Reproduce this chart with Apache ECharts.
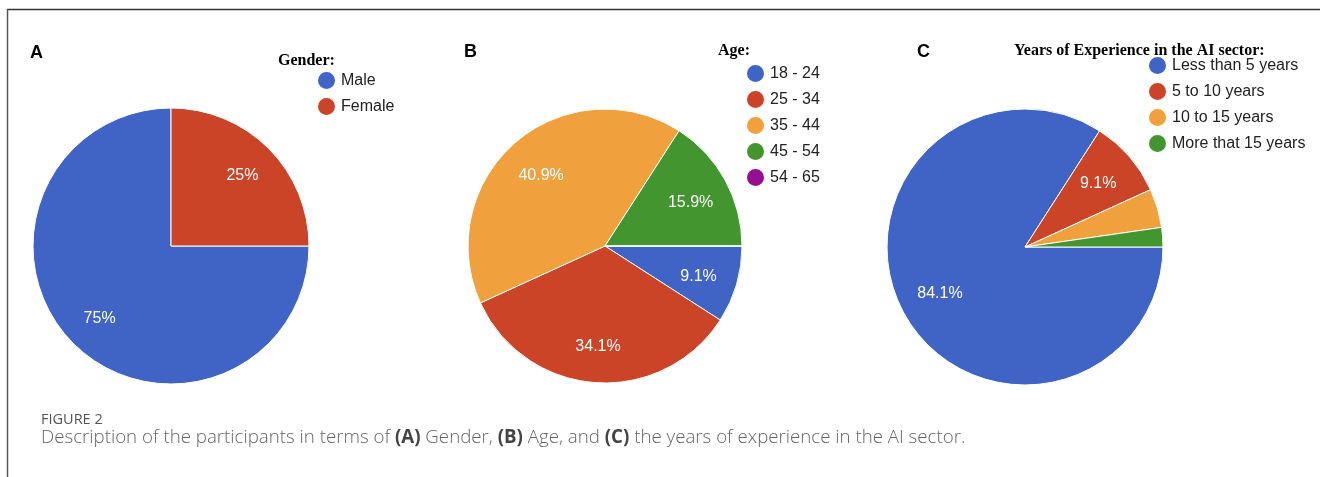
<!DOCTYPE html>
<html>
<head>
<meta charset="utf-8">
<script src="https://cdn.jsdelivr.net/npm/echarts@6/dist/echarts.min.js"></script>
<style>
  html, body { margin: 0; padding: 0; background: #fff; }
  #chart { width: 1320px; height: 477px; }
</style>
</head>
<body>
<div id="chart"></div>
<script>
// 44 participants
var genderNames = ['Male', 'Female'];
var genderCounts = [33, 11];
var ageNames = ['18 - 24', '25 - 34', '35 - 44', '45 - 54', '54 - 65'];
var ageCounts = [4, 15, 18, 7, 0];
var expNames = ['Less than 5 years', '5 to 10 years', '10 to 15 years', 'More that 15 years'];
var expCounts = [37, 4, 2, 1];

var palette = ['#3f64c6', '#cc4428', '#f0a03c', '#43962f', '#931093'];

function toData(names, values) {
  return names.map(function (n, i) {
    return { name: n, value: values[i] };
  });
}

// main pie, no labels
function pieMain(names, values, cx, cy, r) {
  return {
    type: 'pie',
    center: [cx, cy],
    radius: [0, r],
    startAngle: 0,
    clockwise: true,
    silent: true,
    itemStyle: {
      borderColor: '#fff',
      borderWidth: 1,
      color: function (p) { return palette[p.dataIndex]; }
    },
    label: { show: false },
    labelLine: { show: false },
    data: toData(names, values)
  };
}

// transparent ring, only to put the percent labels further out
function pieLabels(names, values, cx, cy, r, inner) {
  return {
    type: 'pie',
    center: [cx, cy],
    radius: [r * inner, r],
    startAngle: 0,
    clockwise: true,
    silent: true,
    percentPrecision: 1,
    itemStyle: { color: 'rgba(0,0,0,0)', borderWidth: 0 },
    label: {
      show: true,
      position: 'inside',
      color: '#fff',
      fontSize: 16,
      fontFamily: 'Liberation Sans, Arial',
      formatter: function (p) {
        return p.percent >= 5 ? p.percent + '%' : '';
      }
    },
    labelLine: { show: false },
    data: toData(names, values)
  };
}

function legendAt(names, left, top) {
  return {
    orient: 'vertical',
    left: left,
    top: top,
    padding: 0,
    itemGap: 5,
    itemWidth: 19,
    itemHeight: 19,
    icon: 'circle',
    selectedMode: false,
    data: names,
    textStyle: { fontSize: 16, color: '#222', fontFamily: 'Liberation Sans, Arial' }
  };
}

function txt(s, x, y, font, fill) {
  return {
    type: 'text',
    silent: true,
    style: { text: s, x: x, y: y, font: font, fill: fill || '#000', verticalAlign: 'middle' }
  };
}

var chart = echarts.init(document.getElementById('chart'), null, { renderer: 'canvas' });

var option = {
  backgroundColor: '#fff',
  animation: false,
  legend: [
    legendAt(genderNames, 316, 70),
    legendAt(ageNames, 745, 63),
    legendAt(expNames, 1147, 55)
  ],
  graphic: [
    { type: 'line', silent: true, shape: { x1: 7, y1: 9.5, x2: 1320, y2: 9.5 }, style: { stroke: '#333', lineWidth: 1.5 } },
    { type: 'line', silent: true, shape: { x1: 7.5, y1: 9, x2: 7.5, y2: 477 }, style: { stroke: '#555', lineWidth: 1.5 } },
    txt('A', 30, 53, 'bold 18px Liberation Sans, Arial'),
    txt('B', 464, 52, 'bold 18px Liberation Sans, Arial'),
    txt('C', 917, 52, 'bold 18px Liberation Sans, Arial'),
    txt('Gender:', 278, 61, 'bold 16px Liberation Serif, Times New Roman'),
    txt('Age:', 718, 51, 'bold 16px Liberation Serif, Times New Roman'),
    txt('Years of Experience in the AI sector:', 1014, 51, 'bold 16px Liberation Serif, Times New Roman'),
    txt('FIGURE 2', 41, 420, '500 14.5px Open Sans', '#555'),
    {
      type: 'text',
      silent: true,
      style: {
        x: 41,
        y: 438,
        verticalAlign: 'middle',
        text: 'Description of the participants in terms of {b|(A)} Gender, {b|(B)} Age, and {b|(C)} the years of experience in the AI sector.',
        font: '300 18.7px Open Sans',
        fill: '#666',
        rich: { b: { font: 'bold 18.7px Open Sans', fill: '#444' } }
      }
    }
  ],
  series: [
    pieMain(genderNames, genderCounts, 171, 246, 138),
    pieMain(ageNames, ageCounts, 605, 246, 137),
    pieMain(expNames, expCounts, 1025, 247, 138),
    pieLabels(genderNames, genderCounts, 171, 247, 138, 0.42),
    pieLabels(ageNames, ageCounts, 605, 249, 137, 0.38),
    pieLabels(expNames, expCounts, 1025, 247, 138, 0.36)
  ]
};

chart.setOption(option);
</script>
</body>
</html>
